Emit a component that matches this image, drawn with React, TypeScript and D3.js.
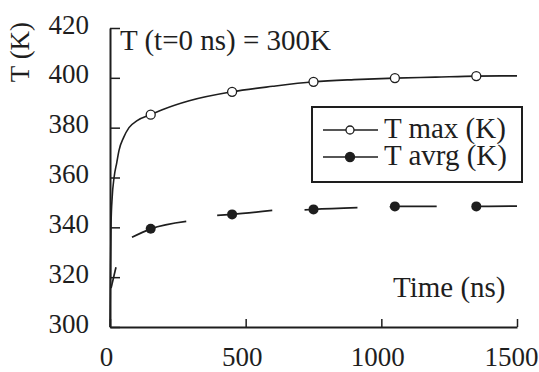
import * as d3 from 'd3';
import {useEffect, useRef} from 'react';

const markerTime = [150, 450, 750, 1050, 1350];
const tMaxMarkers = [385.2, 394.4, 398.4, 399.9, 400.7];
const tAvrgMarkers = [339.4, 345.2, 347.2, 348.4, 348.4];

const tMaxTime = [0, 2, 4, 8, 15, 25, 33, 50, 70, 100, 150, 200, 292, 450, 600, 750, 900, 1050, 1200, 1350, 1500];
const tMaxValue = [300, 325, 342, 352, 360, 366, 370.8, 376, 380, 382.8, 385.2, 387.5, 390.8, 394.4, 396.6, 398.4, 399.3, 399.9, 400.3, 400.7, 400.8];

// T avrg is drawn as broken pieces
const tAvrgDashes: [number, number][][] = [
    [[4, 315.6], [22, 324]],
    [[81, 336], [150, 339.4], [281, 342.4]],
    [[395, 344.8], [450, 345.2], [598, 346.8]],
    [[717, 347], [750, 347.2], [912, 347.9]],
    [[1031, 348.2], [1050, 348.4], [1204, 348.4]],
    [[1334, 348.4], [1350, 348.4], [1500, 348.5]],
];

const yTicks = [300, 320, 340, 360, 380, 400, 420];
const xTicks = [0, 500, 1000, 1500];
const legendLabels = ['T max (K)', 'T avrg (K)'];

const FONT = '"Liberation Serif", "Times New Roman", serif';
const INK = '#1e1e1e';

export default function App() {
    const ref = useRef<SVGSVGElement>(null);
    const width = 539;
    const height = 372;

    useEffect(() => {
        const svg = d3.select(ref.current);
        svg.selectAll('*').remove();

        const x = d3.scaleLinear().domain([0, 1500]).range([110, 517]);
        const y = d3.scaleLinear().domain([300, 420]).range([327, 28]);

        const yAxis = d3.axisLeft(y).tickValues(yTicks).tickSize(-10).tickSizeOuter(0).tickPadding(21);
        const xAxis = d3
            .axisBottom(x)
            .tickValues(xTicks)
            .tickFormat(d3.format('d'))
            .tickSize(-8)
            .tickSizeOuter(0)
            .tickPadding(20);

        const gy = svg.append('g').attr('transform', `translate(${x(0)},0)`).call(yAxis);
        const gx = svg.append('g').attr('transform', `translate(0,${y(300)})`).call(xAxis);

        [gx, gy].forEach((g) => {
            g.select('.domain').attr('stroke', INK).attr('stroke-width', 2);
            g.selectAll('.tick line').attr('stroke', INK).attr('stroke-width', 1.5);
            g.selectAll('.tick text')
                .attr('fill', INK)
                .style('font-family', FONT)
                .style('font-size', '27px');
        });
        gy.selectAll('.tick text').attr('dy', 5);
        gx.selectAll('.tick text').attr('dx', (d) => (d === 1500 ? -6 : -4));

        const line = d3
            .line<[number, number]>()
            .x((d) => x(d[0]))
            .y((d) => y(d[1]))
            .curve(d3.curveMonotoneX);

        svg.append('path')
            .datum(tMaxTime.map((t, i) => [t, tMaxValue[i]] as [number, number]))
            .attr('d', line)
            .attr('fill', 'none')
            .attr('stroke', INK)
            .attr('stroke-width', 1.6);

        svg.selectAll('.avrg')
            .data(tAvrgDashes)
            .join('path')
            .attr('class', 'avrg')
            .attr('d', (d) => line(d))
            .attr('fill', 'none')
            .attr('stroke', INK)
            .attr('stroke-width', 1.7);

        svg.selectAll('.maxpt')
            .data(markerTime)
            .join('circle')
            .attr('class', 'maxpt')
            .attr('cx', (d) => x(d))
            .attr('cy', (_, i) => y(tMaxMarkers[i]))
            .attr('r', 4.5)
            .attr('fill', 'white')
            .attr('stroke', INK)
            .attr('stroke-width', 1.3);

        svg.selectAll('.avgpt')
            .data(markerTime)
            .join('circle')
            .attr('class', 'avgpt')
            .attr('cx', (d) => x(d))
            .attr('cy', (_, i) => y(tAvrgMarkers[i]))
            .attr('r', 5)
            .attr('fill', INK);

        const addText = (sel: d3.Selection<any, any, any, any>, size: number) =>
            sel.attr('fill', INK).style('font-family', FONT).style('font-size', `${size}px`);

        addText(svg.append('text').attr('x', 120).attr('y', 50).text('T (t=0 ns) = 300K'), 29);
        addText(svg.append('text').attr('x', 393).attr('y', 297).text('Time (ns)'), 29);
        addText(
            svg.append('text')
                .attr('transform', 'translate(29,52) rotate(-90)')
                .attr('text-anchor', 'middle')
                .text('T (K)'),
            27
        );

        // legend
        const legend = svg.append('g');
        legend.append('rect')
            .attr('x', 312)
            .attr('y', 107)
            .attr('width', 210)
            .attr('height', 75)
            .attr('fill', 'white')
            .attr('stroke', INK)
            .attr('stroke-width', 2);
        const rows = legend
            .selectAll('.row')
            .data(legendLabels)
            .join('g')
            .attr('class', 'row')
            .attr('transform', (_, i) => `translate(0,${130 + i * 27})`);
        rows.append('line')
            .attr('x1', 323)
            .attr('x2', 378)
            .attr('stroke', INK)
            .attr('stroke-width', 1.5);
        rows.append('circle')
            .attr('cx', 350)
            .attr('r', (_, i) => (i === 0 ? 4 : 4.5))
            .attr('fill', (_, i) => (i === 0 ? 'white' : INK))
            .attr('stroke', INK)
            .attr('stroke-width', 1.3);
        addText(rows.append('text').attr('x', 384).attr('y', 8).text((d) => d), 29);
    }, []);

    return (
        <svg
            ref={ref}
            width={width}
            height={height}
            style={{position: 'absolute', left: 0, top: 0, background: 'white'}}
        />
    );
}
